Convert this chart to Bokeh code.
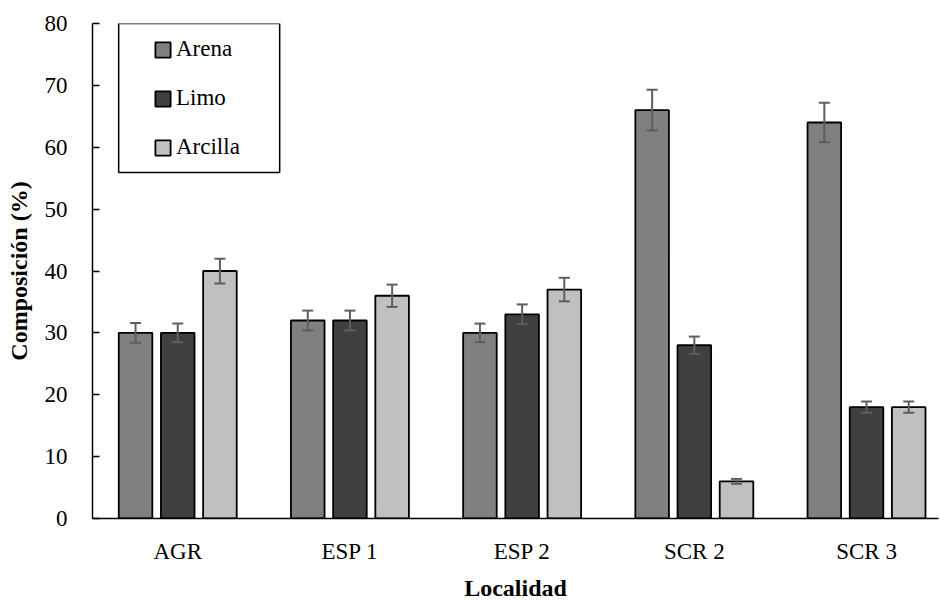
import numpy as np
from bokeh.plotting import figure
from bokeh.models import (ColumnDataSource, Range1d, FixedTicker, Whisker, TeeHead,
                          Legend, LegendItem, BoxAnnotation)
from bokeh.embed import file_html
from bokeh.resources import INLINE

# ---- data ----
categories = ["AGR", "ESP 1", "ESP 2", "SCR 2", "SCR 3"]
series = ["Arena", "Limo", "Arcilla"]
arena = [30, 32, 30, 66, 64]
arena_err = [1.6, 1.6, 1.5, 3.3, 3.2]
limo = [30, 32, 33, 28, 18]
limo_err = [1.5, 1.6, 1.6, 1.4, 0.9]
arcilla = [40, 36, 37, 6, 18]
arcilla_err = [2.0, 1.8, 1.9, 0.4, 0.9]
y_ticks = [0, 10, 20, 30, 40, 50, 60, 70, 80]

values = [arena, limo, arcilla]
errors = [arena_err, limo_err, arcilla_err]

# ---- style ----
colors = ["#808080", "#404040", "#c0c0c0"]
offsets = [-0.245, 0.0, 0.245]
bar_width = 0.195
FONT = "Liberation Serif"

p = figure(width=940, height=603, output_backend="svg", toolbar_location=None,
           x_range=Range1d(-0.495, 4.418), y_range=Range1d(0, 80),
           min_border_left=92, min_border_right=2, min_border_top=23,
           min_border_bottom=85)
p.outline_line_color = None
p.xgrid.visible = False
p.ygrid.visible = False
p.background_fill_color = "white"

idx = np.arange(len(categories))
renderers = []
for name, vals, errs, col, off in zip(series, values, errors, colors, offsets):
    vals = np.array(vals, dtype=float)
    errs = np.array(errs, dtype=float)
    src = ColumnDataSource(dict(x=idx + off, top=vals,
                                upper=vals + errs, lower=vals - errs))
    r = p.vbar(x="x", top="top", bottom=0, width=bar_width, source=src,
               fill_color=col, line_color="black", line_width=1.8)
    renderers.append(r)
    w = Whisker(source=src, base="x", upper="upper", lower="lower",
                level="overlay",
                line_color="#5e5e5e", line_width=2,
                upper_head=TeeHead(size=11, line_color="#5e5e5e", line_width=2),
                lower_head=TeeHead(size=11, line_color="#5e5e5e", line_width=2))
    p.add_layout(w)

# ---- axes ----
p.xaxis.ticker = FixedTicker(ticks=list(idx))
p.xaxis.major_label_overrides = {int(i): c for i, c in zip(idx, categories)}
p.xaxis.major_tick_in = 0
p.xaxis.major_tick_out = 0
p.xaxis.minor_tick_line_color = None
p.xaxis.axis_line_color = "black"
p.xaxis.axis_line_width = 1.5
p.xaxis.major_label_text_font = FONT
p.xaxis.major_label_text_font_size = "23px"
p.xaxis.major_label_text_color = "black"
p.xaxis.major_label_standoff = 20
p.xaxis.axis_label = "Localidad"
p.xaxis.axis_label_text_font = FONT
p.xaxis.axis_label_text_font_size = "24px"
p.xaxis.axis_label_text_font_style = "bold"
p.xaxis.axis_label_text_color = "black"
p.xaxis.axis_label_standoff = 8

p.yaxis.ticker = FixedTicker(ticks=y_ticks)
p.yaxis.major_tick_in = 7
p.yaxis.major_tick_out = 0
p.yaxis.major_tick_line_color = "black"
p.yaxis.major_tick_line_width = 1.5
p.yaxis.minor_tick_line_color = None
p.yaxis.axis_line_color = "black"
p.yaxis.axis_line_width = 1.5
p.yaxis.major_label_text_font = FONT
p.yaxis.major_label_text_font_size = "23px"
p.yaxis.major_label_text_color = "black"
p.yaxis.major_label_standoff = 25
p.yaxis.axis_label = "Composición (%)"
p.yaxis.axis_label_text_font = FONT
p.yaxis.axis_label_text_font_size = "24px"
p.yaxis.axis_label_text_font_style = "bold"
p.yaxis.axis_label_text_color = "black"
p.yaxis.axis_label_standoff = 10

# ---- legend ----
box = BoxAnnotation(left=-0.343, right=0.592, bottom=55.9, top=80,
                    fill_alpha=0, line_color="black", line_alpha=1, line_width=1.5)
p.add_layout(box)

legend = Legend(items=[LegendItem(label=n, renderers=[r]) for n, r in zip(series, renderers)],
                location=(61, 358), padding=0, margin=0,
                border_line_alpha=0, background_fill_alpha=0,
                label_text_font=FONT, label_text_font_size="23px",
                label_text_color="black",
                glyph_width=19, glyph_height=19, label_height=24,
                spacing=23, label_standoff=4)
p.add_layout(legend)

open("out.html", "w").write(file_html(p, INLINE))
